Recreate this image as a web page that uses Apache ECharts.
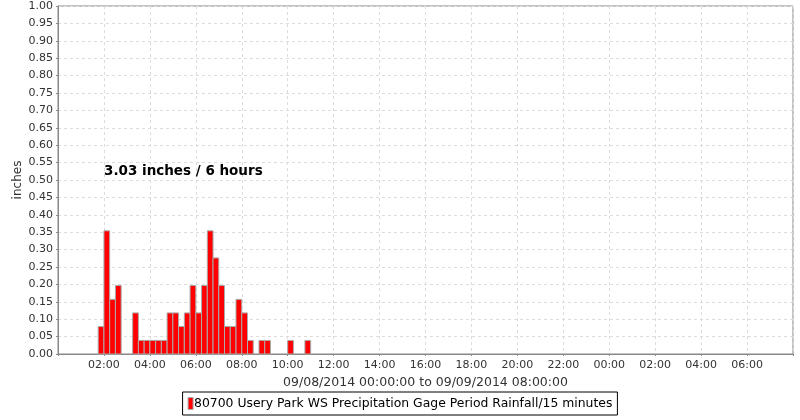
<!DOCTYPE html>
<html><head><meta charset="utf-8">
<script src="https://cdn.jsdelivr.net/npm/echarts@6/dist/echarts.min.js"></script>
<style>html,body{margin:0;padding:0;background:#fff}#c{width:800px;height:420px}</style>
</head><body><div id="c"></div>
<script>
// 15-minute periods (start time, hours on 09/08/2014) and rainfall in inches
const periodStarts = ['01:45','02:00','02:15','02:30','03:15','03:30','03:45','04:00','04:15','04:30',
  '04:45','05:00','05:15','05:30','05:45','06:00','06:15','06:30','06:45','07:00','07:15','07:30',
  '07:45','08:00','08:15','08:45','09:00','10:00','10:45'];
const rainfall = [0.079,0.354,0.157,0.197,0.118,0.039,0.039,0.039,0.039,0.039,
  0.118,0.118,0.079,0.118,0.197,0.118,0.197,0.354,0.276,0.197,0.079,0.079,
  0.157,0.118,0.039,0.039,0.039,0.039,0.039];
const periodHours = 0.25;
const seriesName = '80700 Usery Park WS Precipitation Gage Period Rainfall/15 minutes';
const axisTitle = '09/08/2014 00:00:00 to 09/09/2014 08:00:00';
const annotation = '3.03 inches / 6 hours';
const yName = 'inches';

function toHours(s){const p=s.split(':');return +p[0]+ (+p[1])/60;}
const data = periodStarts.map((t,i)=>[toHours(t), toHours(t)+periodHours, rainfall[i]]);

const font = 'DejaVu Sans';
const chart = echarts.init(document.getElementById('c'), null, {renderer:'canvas'});
chart.setOption({
  animation:false,
  backgroundColor:'#fff',
  textStyle:{fontFamily:font},
  grid:{left:58,right:7,top:6,bottom:66,outerBoundsMode:'none',containLabel:false,show:true,borderColor:'#888',borderWidth:1,backgroundColor:'#fff'},
  title:{text:annotation,left:104,top:164,padding:0,textStyle:{fontFamily:font,fontSize:13.5,fontWeight:'bold',color:'#000'}},
  legend:{
    left:'center',top:392,padding:[5,5,5,5],borderColor:'#000',borderWidth:1,
    itemWidth:5,itemHeight:12,itemGap:5,
    textStyle:{fontFamily:font,fontSize:12.4,color:'#000',padding:[0,0,0,-4]},
    data:[{name:seriesName,icon:'rect',itemStyle:{color:'#ff0000',borderColor:'#aaaaaa',borderWidth:1}}]
  },
  xAxis:{
    type:'value',min:0,max:32,interval:2,
    name:axisTitle,nameLocation:'middle',nameGap:22,nameMoveOverlap:false,
    nameTextStyle:{fontFamily:font,fontSize:12.5,color:'#333'},
    axisLine:{lineStyle:{color:'#888'}},
    axisTick:{show:true,length:2,inside:false,lineStyle:{color:'#888'}},
    axisLabel:{fontFamily:font,fontSize:11,color:'#333',margin:6,
      formatter:function(v){ if(v<=0||v>=32) return ''; const h=((v%24)+24)%24; return (h<10?'0':'')+h+':00';}},
    splitLine:{show:true,lineStyle:{color:'#dcdcdc',type:[3,3]}}
  },
  yAxis:{
    type:'value',min:0,max:1,interval:0.05,
    name:yName,nameLocation:'middle',nameGap:34,nameRotate:90,nameMoveOverlap:false,
    nameTextStyle:{fontFamily:font,fontSize:12,color:'#333'},
    axisLine:{show:true,lineStyle:{color:'#888'}},
    axisTick:{show:true,length:2,lineStyle:{color:'#888'}},
    axisLabel:{fontFamily:font,fontSize:11,color:'#333',margin:5,formatter:function(v){return v.toFixed(2);}},
    splitLine:{show:true,lineStyle:{color:'#dcdcdc',type:[3,3]}}
  },
  series:[{
    type:'custom',name:seriesName,
    itemStyle:{color:'#ff0000',borderColor:'#aaaaaa',borderWidth:1},
    encode:{x:[0,1],y:2},
    renderItem:function(params,api){
      const p0=api.coord([api.value(0),api.value(2)]);
      const p1=api.coord([api.value(1),0]);
      return {type:'rect',shape:{x:p0[0],y:p0[1],width:p1[0]-p0[0],height:p1[1]-p0[1]},
        style:{fill:'#ff0000',stroke:'#aaaaaa',lineWidth:1}};
    },
    data:data
  }]
});
</script></body></html>
